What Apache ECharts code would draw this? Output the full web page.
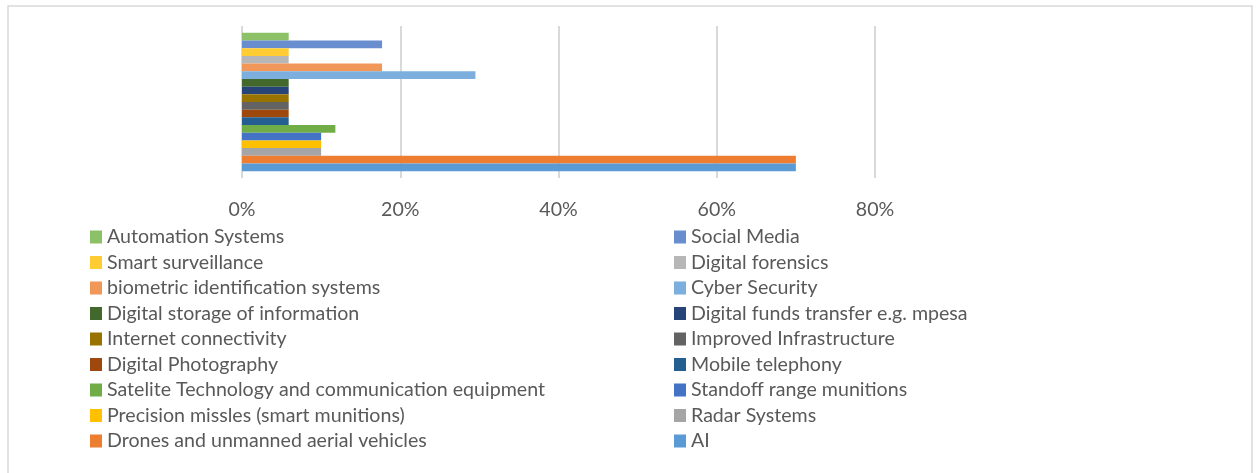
<!DOCTYPE html>
<html>
<head>
<meta charset="utf-8">
<script src="https://cdn.jsdelivr.net/npm/echarts@6/dist/echarts.min.js"></script>
<style>
  html, body { margin: 0; padding: 0; background: #ffffff; }
  #chart { width: 1258px; height: 473px; }
</style>
</head>
<body>
<div id="chart"></div>
<script>
// Technologies, listed from the bottom bar upwards
const technologies = [
  'AI',
  'Drones and unmanned aerial vehicles',
  'Radar Systems',
  'Precision missles (smart munitions)',
  'Standoff range munitions',
  'Satelite Technology and communication equipment',
  'Mobile telephony',
  'Digital Photography',
  'Improved Infrastructure',
  'Internet connectivity',
  'Digital funds transfer e.g. mpesa',
  'Digital storage of information',
  'Cyber Security',
  'biometric identification systems',
  'Digital forensics',
  'Smart surveillance',
  'Social Media',
  'Automation Systems'
];

// Share of responses for each technology (fraction)
const shares = [
  0.70, 0.70, 0.10, 0.10, 0.10, 0.118,
  0.059, 0.059, 0.059, 0.059, 0.059, 0.059,
  0.295, 0.177, 0.059, 0.059, 0.177, 0.059
];

const barColors = [
  '#5B9BD5', '#ED7D31', '#A5A5A5', '#FFC000', '#4472C4', '#70AD47',
  '#255E91', '#9E480E', '#636363', '#997300', '#264478', '#43682B',
  '#7CAFDD', '#F1975A', '#B7B7B7', '#FFCD33', '#698ED0', '#8CC168'
];

// Legend columns
const legendLeft = [
  'Automation Systems',
  'Smart surveillance',
  'biometric identification systems',
  'Digital storage of information',
  'Internet connectivity',
  'Digital Photography',
  'Satelite Technology and communication equipment',
  'Precision missles (smart munitions)',
  'Drones and unmanned aerial vehicles'
];
const legendRight = [
  'Social Media',
  'Digital forensics',
  'Cyber Security',
  'Digital funds transfer e.g. mpesa',
  'Improved Infrastructure',
  'Mobile telephony',
  'Standoff range munitions',
  'Radar Systems',
  'AI'
];

const xTicks = { min: 0, max: 0.8, interval: 0.2 };

const FONT = 'Lato';
const TEXT_COLOR = '#595959';

const chart = echarts.init(document.getElementById('chart'), null, { renderer: 'canvas' });

const legendCommon = {
  orient: 'vertical',
  top: 222,
  icon: 'rect',
  itemWidth: 12,
  itemHeight: 13,
  itemGap: 5.5,
  selectedMode: false,
  textStyle: { fontFamily: FONT, fontSize: 19.6, color: TEXT_COLOR, lineHeight: 20 }
};

// Bars stack top-to-bottom in series order, so feed them from the top down
const order = technologies.map((_, i) => i).reverse();

const option = {
  animation: false,
  backgroundColor: '#ffffff',
  graphic: [{
    type: 'rect',
    shape: { x: 8, y: 6, width: 1244, height: 480 },
    style: { fill: 'none', stroke: '#d9d9d9', lineWidth: 1.5 },
    silent: true
  }],
  legend: [
    Object.assign({ left: 85, data: legendLeft }, legendCommon),
    Object.assign({ left: 669, data: legendRight }, legendCommon)
  ],
  grid: { left: 242, right: 383, top: 26, bottom: 295, containLabel: false },
  xAxis: {
    type: 'value',
    min: xTicks.min,
    max: xTicks.max,
    interval: xTicks.interval,
    axisLine: { show: false },
    axisTick: { show: false },
    splitLine: { show: true, lineStyle: { color: '#d9d9d9', width: 2 } },
    axisLabel: {
      margin: 22,
      fontFamily: FONT,
      fontSize: 19.6,
      color: TEXT_COLOR,
      formatter: v => Math.round(v * 100) + '%'
    }
  },
  yAxis: {
    type: 'category',
    data: [''],
    axisLine: { show: false },
    axisTick: { show: false },
    axisLabel: { show: false }
  },
  series: order.map(i => ({
    name: technologies[i],
    type: 'bar',
    data: [shares[i]],
    barGap: '0%',
    barCategoryGap: '9%',
    itemStyle: { color: barColors[i] }
  }))
};

chart.setOption(option);
</script>
</body>
</html>
